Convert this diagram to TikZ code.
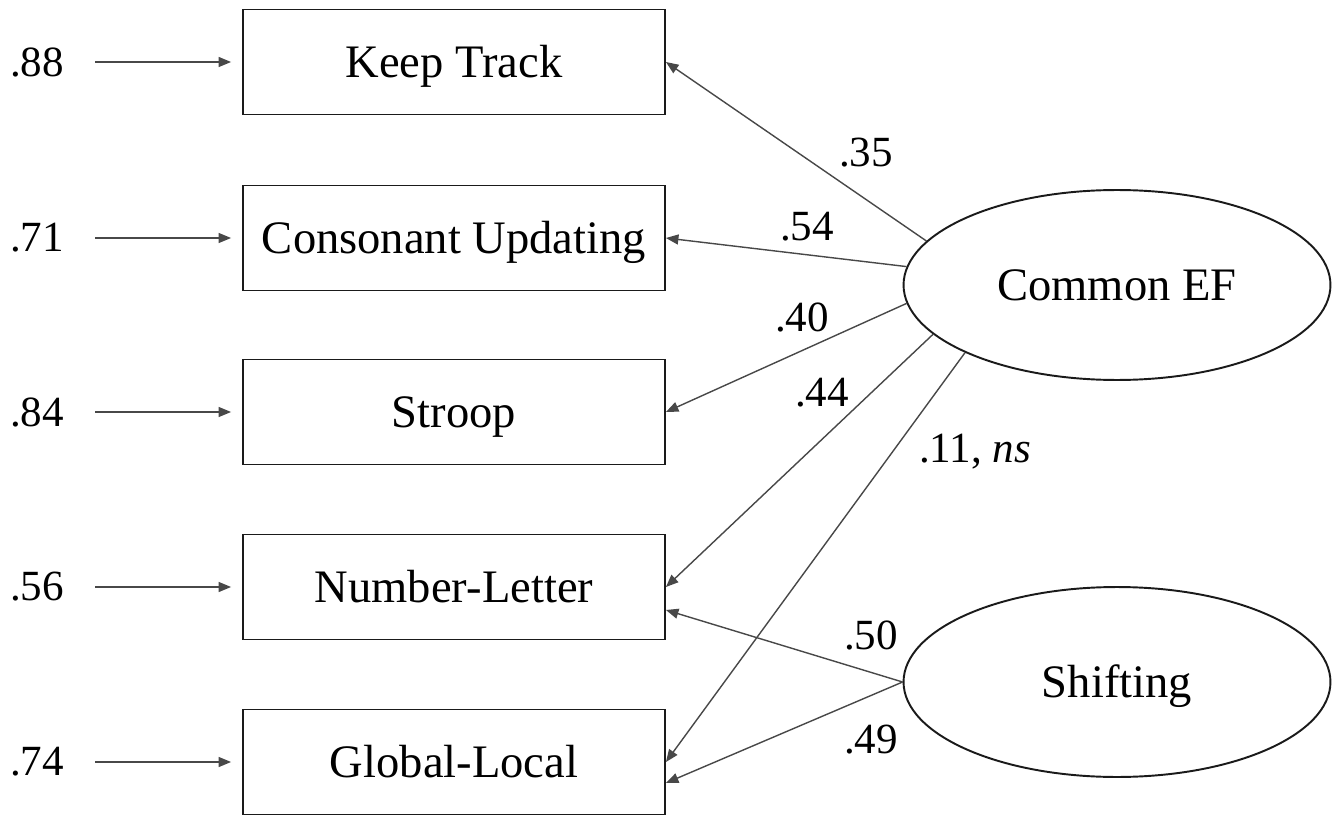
\documentclass[tikz,border=0pt]{standalone}
\usepackage{fontspec}
\setmainfont{Liberation Serif}
\usetikzlibrary{arrows.meta,positioning,shapes.geometric}
\definecolor{SemBorder}{HTML}{1A1A1A}
\definecolor{SemPath}{HTML}{484848}
\begin{document}
\begin{tikzpicture}[x=0.02cm,y=0.02cm,
    measure/.style={draw=SemBorder,line width=1.1pt,minimum width=8.44cm,
      minimum height=2.1cm,inner sep=0pt,text height=17.5pt,text depth=0pt,
      font=\fontsize{26.5}{30}\selectfont},
    latent/.style={ellipse,draw=SemBorder,line width=1.1pt,minimum width=8.54cm,
      minimum height=3.8cm,inner sep=0pt,text height=17.5pt,text depth=0pt,
      font=\fontsize{26.5}{30}\selectfont},
    coef/.style={inner sep=0pt,font=\fontsize{24.5}{28}\selectfont},
    load/.style={draw=SemPath,line width=0.8pt,-{Triangle[length=0.25cm,width=0.2cm]}},
    resid/.style={load,shorten <=0.62cm,shorten >=0.22cm}]
  \useasboundingbox (0,0) rectangle (1342,816);

  % observed tasks with residual variances
  \foreach \y/\n/\r/\t in {
    754/kt/.88/Keep Track,
    578/cu/.71/Consonant Updating,
    404/st/.84/Stroop,
    229/nl/.56/Number-Letter,
    54/gl/.74/Global-Local
  }{
    \node[measure] (\n) at (454,\y) {\t};
    \node[coef] (r\n) at (37,\y) {\r};
    \draw[resid] (r\n) -- (\n);
  }

  % latent factors
  \node[latent] (cef) at (1117,531) {Common EF};
  \node[latent] (sh) at (1117,134) {Shifting};

  \draw[load] (cef.167.6) -- (kt.east);
  \draw[load] (cef.175.4) -- (cu.east);
  \draw[load] (cef.185.4) -- (st.east);
  \draw[load] (cef.195) -- (nl.east);
  \draw[load] (cef.204.4) -- (gl.east);
  \draw[load] (sh.west) -- ([yshift=-0.46cm]nl.east);
  \draw[load] (sh.west) -- ([yshift=-0.42cm]gl.east);

  % loadings
  \node[coef] (lkt) at (866,663) {.35};
  \node[coef] (lcu) at (807,589) {.54};
  \node[coef] (lst) at (802,499) {.40};
  \node[coef] (lnl) at (822,423) {.44};
  \node[coef] (lgl) at (975,364) {.11, \textit{ns}};
  \node[coef] (snl) at (871,181) {.50};
  \node[coef] (sgl) at (871,76) {.49};
\end{tikzpicture}
\end{document}
